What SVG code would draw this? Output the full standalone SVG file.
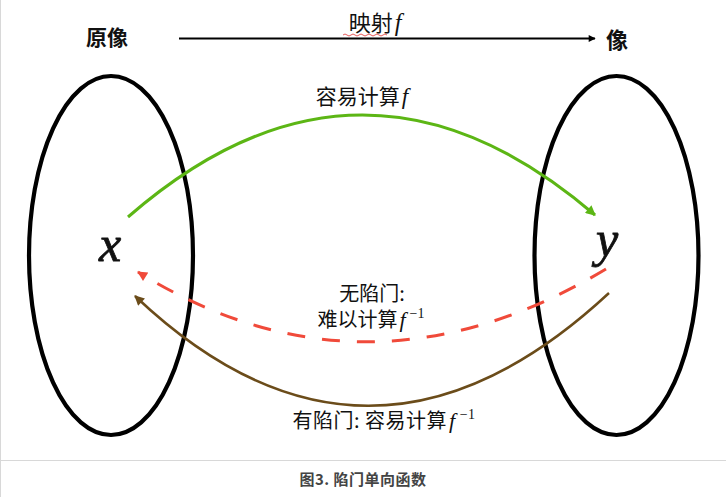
<svg xmlns="http://www.w3.org/2000/svg" width="726" height="497" viewBox="0 0 726 497">
<style>
.cjk{font-family:"Noto Sans CJK SC","Noto Sans",sans-serif;fill:#111}
.it{font-family:"Liberation Serif",serif;font-style:italic;font-size:1.1em}
.sup{font-family:"Liberation Serif",serif;font-size:14px}
.set{fill:none;stroke:#000;stroke-width:4.2}
.var{font-family:"Liberation Serif",serif;font-style:italic;font-size:50px;fill:#111;stroke:#111;stroke-width:0.8}
</style>
<defs>
<marker id="aBlack" viewBox="0 0 10 10" refX="9" refY="5" markerWidth="8" markerHeight="7" markerUnits="userSpaceOnUse" orient="auto"><path d="M0,0 L10,5 L0,10 z" fill="#000"/></marker>
<marker id="aGreen" viewBox="0 0 10 10" refX="9" refY="5" markerWidth="12" markerHeight="10" markerUnits="userSpaceOnUse" orient="auto"><path d="M0,0 L10,5 L0,10 z" fill="#5cb615"/></marker>
<marker id="aRed" viewBox="0 0 10 10" refX="9" refY="5" markerWidth="12" markerHeight="10" markerUnits="userSpaceOnUse" orient="auto"><path d="M0,0 L10,5 L0,10 z" fill="#f04a3a"/></marker>
<marker id="aBrown" viewBox="0 0 10 10" refX="9" refY="5" markerWidth="12" markerHeight="10" markerUnits="userSpaceOnUse" orient="auto"><path d="M0,0 L10,5 L0,10 z" fill="#6b4c1a"/></marker>
</defs>
<rect width="726" height="497" fill="#fff"/>
<line x1="0.5" y1="0" x2="0.5" y2="497" stroke="#d8d8d8" stroke-width="1"/>
<line x1="0" y1="460.5" x2="726" y2="460.5" stroke="#d8d8d8" stroke-width="1"/>
<g id="domain">
<ellipse class="set" cx="111" cy="255.5" rx="82" ry="179.5"/>
<text class="cjk" x="86" y="45" font-size="21" font-weight="bold">原像</text>
<text class="var" x="99" y="261">x</text>
</g>
<g id="codomain">
<ellipse class="set" cx="616.5" cy="255.5" rx="82" ry="179.5"/>
<text class="cjk" x="606" y="48" font-size="22" font-weight="bold">像</text>
<text class="var" x="596" y="256">y</text>
</g>
<g id="connectors">
<line x1="179" y1="38.5" x2="595" y2="38.5" stroke="#000" stroke-width="2" marker-end="url(#aBlack)"/>
<path d="M128,217 Q361,14 595,215" fill="none" stroke="#5cb615" stroke-width="3" marker-end="url(#aGreen)"/>
<path d="M606,269 Q366,413 138,272" fill="none" stroke="#f04a3a" stroke-width="3" stroke-dasharray="18,17" marker-end="url(#aRed)"/>
<path d="M609,293 Q368,517 135,296" fill="none" stroke="#6b4c1a" stroke-width="2.5" marker-end="url(#aBrown)"/>
</g>
<g id="labels">
<text class="cjk" x="375" y="31" font-size="22" text-anchor="middle">映射<tspan class="it" dx="2">f</tspan></text>
<path d="M343,35 q2,-2 4,0 t4,0 t4,0 t4,0 t4,0 t4,0 t4,0 t4,0 t4,0 t4,0 t4,0" fill="none" stroke="#e03030" stroke-width="0.8"/>
<text class="cjk" x="362" y="104" font-size="21" text-anchor="middle">容易计算<tspan class="it" dx="2">f</tspan></text>
<text class="cjk" x="372" y="301" font-size="20" text-anchor="middle">无陷门:</text>
<text class="cjk" x="371" y="327" font-size="20" text-anchor="middle">难以计算<tspan class="it" dx="2">f</tspan><tspan class="sup" dx="4" dy="-9">−1</tspan></text>
<text class="cjk" x="384" y="428" font-size="20" letter-spacing="0.5" text-anchor="middle">有陷门: 容易计算<tspan class="it" dx="2">f</tspan><tspan class="sup" dx="4" dy="-9">−1</tspan></text>
</g>
<text class="cjk" x="363" y="485" font-size="15" font-weight="bold" letter-spacing="0.5" text-anchor="middle" style="fill:#444">图3. 陷门单向函数</text>
</svg>
